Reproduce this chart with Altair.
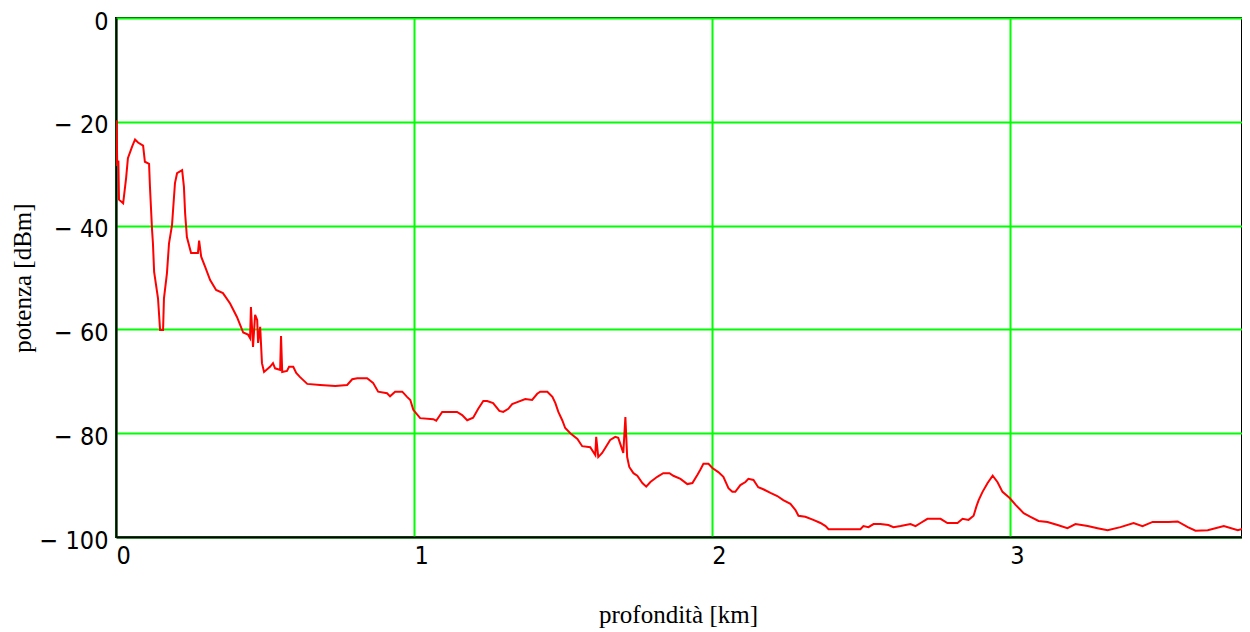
import altair as alt
import pandas as pd

depth_km = [0.000, 0.002, 0.004, 0.008, 0.010, 0.024, 0.034, 0.040, 0.054, 0.064, 0.074, 0.091, 0.097, 0.111, 0.114, 0.121, 0.124, 0.128, 0.141, 0.148, 0.158, 0.161, 0.171, 0.178, 0.188, 0.198, 0.205, 0.222, 0.228, 0.232, 0.238, 0.252, 0.275, 0.279, 0.286, 0.299, 0.316, 0.336, 0.359, 0.383, 0.406, 0.427, 0.443, 0.450, 0.453, 0.460, 0.467, 0.474, 0.477, 0.484, 0.490, 0.497, 0.517, 0.527, 0.534, 0.551, 0.554, 0.558, 0.574, 0.581, 0.595, 0.605, 0.618, 0.642, 0.685, 0.736, 0.776, 0.793, 0.810, 0.843, 0.863, 0.880, 0.910, 0.920, 0.937, 0.961, 0.977, 0.988, 0.998, 1.021, 1.065, 1.075, 1.095, 1.145, 1.162, 1.179, 1.199, 1.216, 1.233, 1.246, 1.266, 1.287, 1.300, 1.317, 1.330, 1.347, 1.374, 1.397, 1.414, 1.424, 1.448, 1.465, 1.475, 1.485, 1.498, 1.508, 1.525, 1.549, 1.565, 1.592, 1.609, 1.612, 1.619, 1.632, 1.646, 1.659, 1.676, 1.686, 1.703, 1.710, 1.716, 1.723, 1.737, 1.750, 1.767, 1.780, 1.794, 1.817, 1.837, 1.858, 1.871, 1.895, 1.918, 1.935, 1.952, 1.962, 1.972, 1.989, 2.002, 2.022, 2.039, 2.056, 2.069, 2.079, 2.096, 2.113, 2.123, 2.140, 2.156, 2.173, 2.197, 2.220, 2.240, 2.264, 2.281, 2.291, 2.314, 2.341, 2.365, 2.382, 2.392, 2.499, 2.509, 2.526, 2.543, 2.566, 2.593, 2.610, 2.634, 2.667, 2.684, 2.701, 2.724, 2.768, 2.791, 2.825, 2.842, 2.862, 2.879, 2.889, 2.896, 2.909, 2.926, 2.943, 2.959, 2.976, 3.000, 3.020, 3.047, 3.070, 3.097, 3.127, 3.161, 3.194, 3.221, 3.262, 3.295, 3.329, 3.372, 3.416, 3.446, 3.480, 3.534, 3.564, 3.598, 3.624, 3.665, 3.719, 3.766, 3.800]

power_dbm = [-28.5, -19.7, -28.0, -27.5, -35.0, -35.7, -30.8, -27.0, -24.8, -23.4, -24.0, -24.6, -27.7, -28.1, -32.5, -40.8, -43.4, -48.9, -54.0, -60.1, -60.1, -54.0, -49.2, -43.4, -39.9, -31.8, -29.9, -29.3, -32.5, -37.6, -42.2, -45.3, -45.3, -42.9, -46.0, -47.9, -50.5, -52.4, -53.0, -55.0, -57.6, -60.6, -61.0, -61.7, -55.7, -63.4, -57.2, -58.2, -62.6, -59.5, -66.5, -68.2, -67.2, -66.5, -67.5, -67.8, -61.3, -68.2, -68.0, -67.2, -67.2, -68.4, -69.2, -70.5, -70.7, -70.9, -70.7, -69.6, -69.4, -69.4, -70.3, -72.0, -72.3, -72.9, -72.0, -72.0, -73.0, -73.6, -75.5, -77.1, -77.3, -77.6, -75.9, -75.9, -76.5, -77.5, -77.0, -75.3, -73.8, -73.8, -74.2, -75.7, -75.9, -75.3, -74.4, -74.0, -73.4, -73.6, -72.4, -72.0, -72.0, -73.0, -74.2, -75.9, -77.5, -79.0, -80.0, -81.1, -82.5, -82.7, -84.2, -80.7, -84.6, -83.8, -82.5, -81.3, -80.7, -80.9, -83.8, -76.9, -84.6, -86.5, -87.7, -88.2, -89.6, -90.3, -89.4, -88.4, -87.7, -87.7, -88.2, -88.8, -89.8, -89.6, -88.0, -87.0, -85.9, -85.9, -86.7, -87.5, -88.4, -90.6, -91.3, -91.3, -90.0, -89.4, -88.8, -89.0, -90.4, -90.8, -91.5, -92.1, -92.9, -93.6, -94.8, -95.9, -96.1, -96.7, -97.3, -97.9, -98.5, -98.5, -97.9, -98.1, -97.5, -97.5, -97.7, -98.1, -97.9, -97.5, -97.9, -97.3, -96.5, -96.5, -97.3, -97.3, -96.5, -96.7, -95.9, -94.0, -92.9, -91.3, -89.6, -88.2, -89.4, -91.3, -92.5, -93.8, -95.4, -96.1, -96.9, -97.1, -97.7, -98.3, -97.5, -97.9, -98.3, -98.7, -98.1, -97.3, -97.9, -97.1, -97.1, -97.0, -98.1, -98.8, -98.7, -97.9, -98.7, -98.1]

x_ticks = [0, 1, 2, 3]
y_ticks = [0, -20, -40, -60, -80, -100]

df = pd.DataFrame({"km": depth_km, "dbm": power_dbm, "order": list(range(len(depth_km)))})

LABEL_FONT = "'Liberation Sans Narrow', 'DejaVu Sans Condensed', 'Roboto Condensed', 'Liberation Sans', sans-serif"
TITLE_FONT = "Liberation Serif"

chart = alt.Chart(df).mark_line(color="#ff0000", strokeWidth=2, clip=True).encode(
    x=alt.X(
        "km:Q",
        scale=alt.Scale(domain=[0, 3.78], nice=False, zero=False),
        axis=alt.Axis(
            values=x_ticks,
            title="profondità [km]",
            titleFont=TITLE_FONT,
            titleFontSize=25,
            titleFontWeight="normal",
            titleColor="black",
            titleX=562,
            titleY=85,
            titleAlign="center",
            titleBaseline="alphabetic",
            labelFont=LABEL_FONT,
            labelFontSize=25,
            labelColor="black",
            labelAlign="left",
            labelBaseline="top",
            labelPadding=6,
            labelFlush=False,
            ticks=False,
            grid=True,
            gridColor="#00ff00",
            gridWidth=2,
            gridOpacity=1,
            domainColor="black",
            domainWidth=2,
        ),
    ),
    y=alt.Y(
        "dbm:Q",
        scale=alt.Scale(domain=[-100, 0], nice=False, zero=False),
        axis=alt.Axis(
            values=y_ticks,
            title="potenza [dBm]",
            titleFont=TITLE_FONT,
            titleFontSize=25,
            titleFontWeight="normal",
            titleColor="black",
            titleAngle=-90,
            titleX=-94,
            titleY=259.5,
            titleAlign="center",
            titleBaseline="middle",
            labelFont=LABEL_FONT,
            labelFontSize=25,
            labelColor="black",
            labelAlign="right",
            labelBaseline="middle",
            labelPadding=8,
            labelOffset=3,
            labelFlush=False,
            labelExpr="datum.value == 0 ? '0' : '\u2212 ' + abs(datum.value)",
            ticks=False,
            grid=True,
            gridColor="#00ff00",
            gridWidth=2,
            gridOpacity=1,
            domainColor="black",
            domainWidth=2,
        ),
    ),
    order="order:Q",
).properties(
    width=1126,
    height=519,
    autosize=alt.AutoSizeParams(type="none"),
    padding={"left": 108, "top": 10, "right": 0, "bottom": 91},
    background="white",
).configure_view(
    stroke="black",
    strokeWidth=2,
)

chart.save("out.html", embed_options={"renderer": "svg", "actions": False})
